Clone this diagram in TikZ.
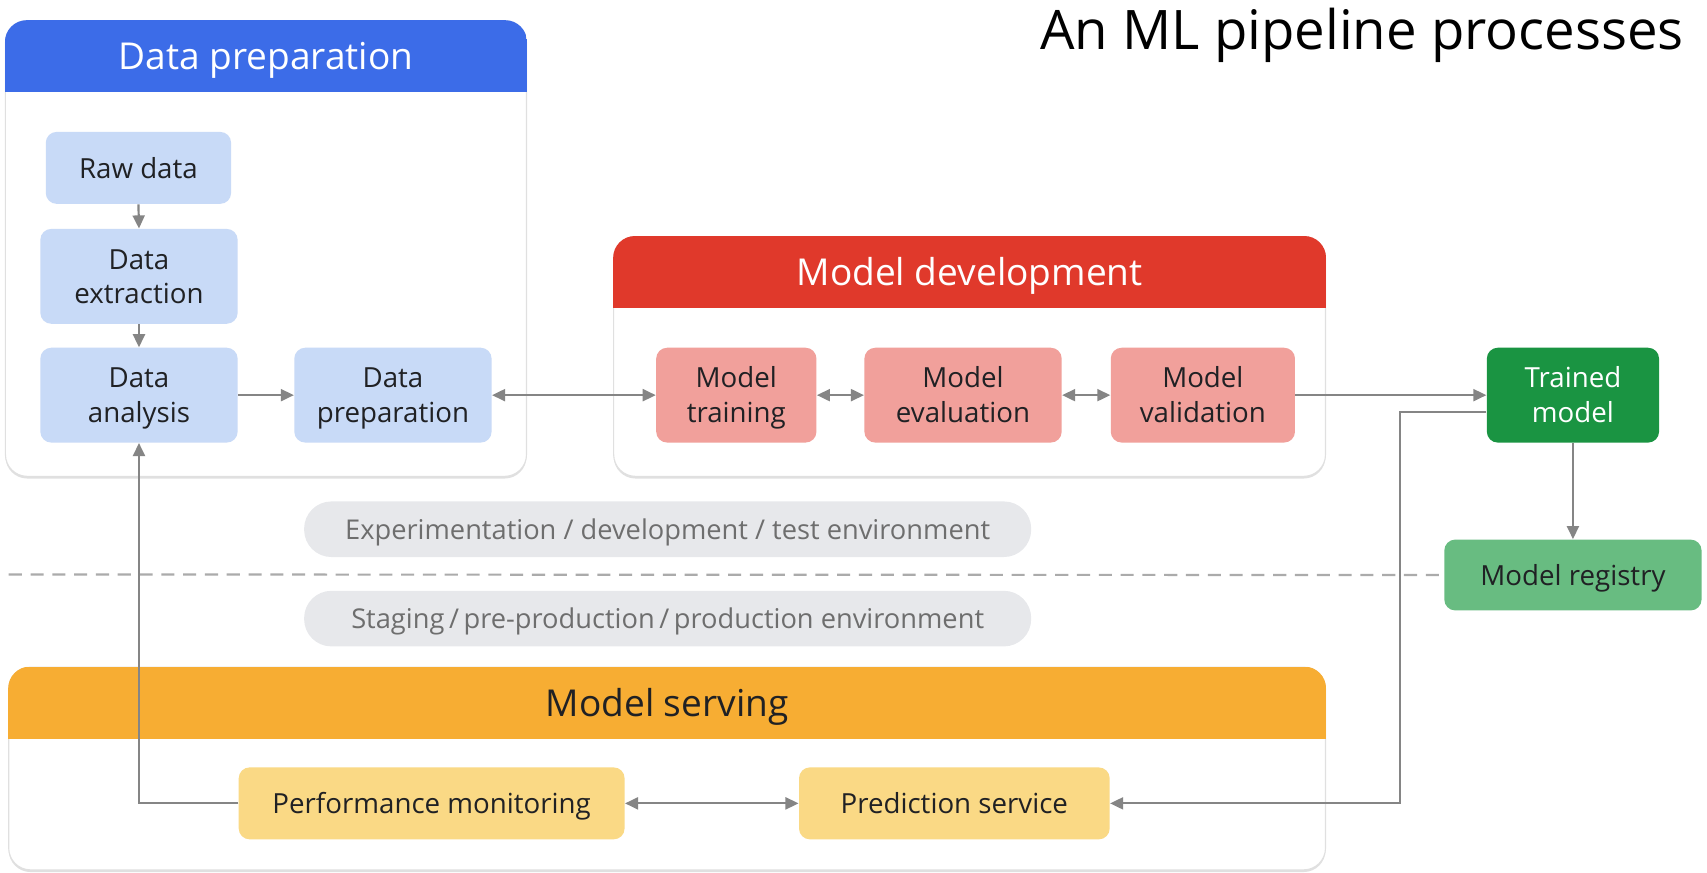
\documentclass[tikz,border=0pt]{standalone}
\usepackage{fontspec}
\setmainfont{Open Sans}
\usetikzlibrary{arrows.meta,shadows}
\definecolor{hblue}{HTML}{3C6CE8}
\definecolor{lblue}{HTML}{C8DAF7}
\definecolor{hred}{HTML}{E0392B}
\definecolor{lred}{HTML}{F1A09B}
\definecolor{dgreen}{HTML}{1A9442}
\definecolor{lgreen}{HTML}{68BC81}
\definecolor{horange}{HTML}{F7AD33}
\definecolor{lyellow}{HTML}{FAD985}
\definecolor{pillgray}{HTML}{E7E8EB}
\definecolor{pilltext}{HTML}{6E6E6E}
\definecolor{txt}{HTML}{202124}
\definecolor{arrgray}{HTML}{858585}
\begin{document}
\begin{tikzpicture}[x=0.5pt,y=-0.5pt,
  box/.style={rounded corners=5pt, align=center, inner sep=0pt, text=txt,
    font=\fontsize{12.7}{16}\selectfont, text height=9.6pt, text depth=0.3pt},
  twoline/.style={text height=25.6pt, text depth=0.3pt},
  bluebox/.style={box, fill=lblue},
  redbox/.style={box, fill=lred},
  yelbox/.style={box, fill=lyellow},
  container/.style={draw=black!12, line width=0.5pt, fill=white, rounded corners=10pt, inner sep=0pt,
    drop shadow={shadow xshift=0pt, shadow yshift=-1pt, opacity=0.12, fill=black}},
  htext/.style={font=\fontsize{17}{20}\selectfont, inner sep=0pt, text height=12.4pt, text depth=0pt},
  pill/.style={fill=pillgray, rounded corners=12.5pt, inner sep=0pt, text=pilltext,
    font=\fontsize{12.5}{14}\selectfont, text height=9.2pt, text depth=0pt,
    minimum width=333.5pt, minimum height=25.5pt},
  arr/.style={draw=arrgray, line width=1pt, -{Triangle[length=6pt,width=5.5pt]}},
  darr/.style={draw=arrgray, line width=1pt, {Triangle[length=6pt,width=5.5pt]}-{Triangle[length=6pt,width=5.5pt]}},
  dline/.style={draw=black!33, line width=1pt, dash pattern=on 6pt off 4pt}
]
\useasboundingbox (0,0) rectangle (1566,800);

% title
\node[anchor=base east, inner sep=0pt, font=\fontsize{25}{28}\selectfont, text=black] (title) at (1545,45) {An ML pipeline processes};

% containers
\node[container, minimum width=239pt, minimum height=209pt] (dpc) at (244,228) {};
\begin{scope}
\clip[rounded corners=10pt] (dpc.north west) rectangle (dpc.south east);
\fill[hblue] (dpc.north west) rectangle ([yshift=-33pt]dpc.north east);
\end{scope}
\node[htext, text=white] (dph) at ([yshift=-16.5pt]dpc.north) {Data preparation};

\node[container, minimum width=326.5pt, minimum height=110pt] (mdc) at (889.5,327) {};
\begin{scope}
\clip[rounded corners=10pt] (mdc.north west) rectangle (mdc.south east);
\fill[hred] (mdc.north west) rectangle ([yshift=-33pt]mdc.north east);
\end{scope}
\node[htext, text=white] (mdh) at ([yshift=-16.5pt]mdc.north) {Model development};

\node[container, minimum width=604pt, minimum height=93pt] (msc) at (612,705) {};
\begin{scope}
\clip[rounded corners=10pt] (msc.north west) rectangle (msc.south east);
\fill[horange] (msc.north west) rectangle ([yshift=-33pt]msc.north east);
\end{scope}
\node[htext, text=txt] (msh) at ([yshift=-16.5pt]msc.north) {Model serving};

% data preparation nodes
\node[bluebox, minimum width=85pt, minimum height=33pt] (raw) at (127,154) {Raw data};
\node[bluebox, twoline, minimum width=90.5pt, minimum height=43.5pt] (ext) at (127.5,253.5) {Data\\extraction};
\node[bluebox, twoline, minimum width=90.5pt, minimum height=43.5pt] (ana) at (127.5,362.5) {Data\\analysis};
\node[bluebox, twoline, minimum width=90.5pt, minimum height=43.5pt] (prep) at (360.5,362.5) {Data\\preparation};

% model development nodes
\node[redbox, twoline, minimum width=73.5pt, minimum height=43.5pt] (train) at (675.5,362.5) {Model\\training};
\node[redbox, twoline, minimum width=90.5pt, minimum height=43.5pt] (eval) at (883.5,362.5) {Model\\evaluation};
\node[redbox, twoline, minimum width=84.5pt, minimum height=43.5pt] (val) at (1103.5,362.5) {Model\\validation};

% green nodes
\node[box, twoline, fill=dgreen, text=white, minimum width=79pt, minimum height=43.5pt] (trained) at (1443,362.5) {Trained\\model};
\node[box, fill=lgreen, minimum width=118pt, minimum height=32.5pt] (reg) at (1443,527.5) {Model registry};

% pills
\node[pill] (exp) at (612.5,485.5) {Experimentation / development / test environment};
\node[pill] (stg) at (612.5,567.5) {Staging\,/\,pre-production\,/\,production environment};

% dashed separator
\coordinate (dl) at (8,527);
\draw[dline] (dl) -- (reg.west);

% serving nodes
\node[yelbox, minimum width=177pt, minimum height=33pt] (perf) at (396,737) {Performance monitoring};
\node[yelbox, minimum width=142.5pt, minimum height=33pt] (pred) at (875.5,737) {Prediction service};

% connectors
\draw[arr] (raw.south) -- (ext.north);
\draw[arr] (ext.south) -- (ana.north);
\draw[arr] (ana.east) -- (prep.west);
\draw[darr] (prep.east) -- (train.west);
\draw[darr] (train.east) -- (eval.west);
\draw[darr] (eval.east) -- (val.west);
\draw[arr] (val.east) -- (trained.west);
\draw[arr] (trained.south) -- (reg.north);
\draw[arr] ([yshift=-7.75pt]trained.west) -- ++(-79,0) |- (pred.east);
\draw[darr] (perf.east) -- (pred.west);
\draw[arr] (perf.west) -| (ana.south);
\end{tikzpicture}
\end{document}
